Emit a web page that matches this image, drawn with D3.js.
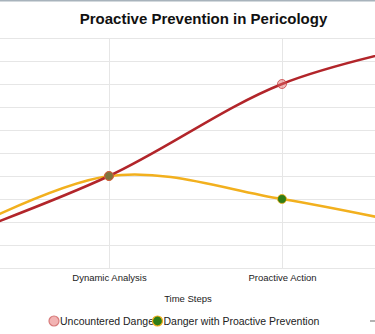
<!DOCTYPE html>
<html>
<head>
<meta charset="utf-8">
<script src="https://cdn.jsdelivr.net/npm/d3@7"></script>
<style>
  html, body { margin: 0; padding: 0; background: #fff; }
  svg { display: block; font-family: "Liberation Sans", Arial, sans-serif; }
</style>
</head>
<body>
<div id="chart"></div>
<script>
const WIDTH = 375;
const HEIGHT = 334;

// data
const categories = ["Initial State", "Dynamic Analysis", "Proactive Action", "Outcome"];
const uncountered = [1, 4, 8, 10];
const prevention = [1, 4, 3, 1.5];
const yTicks = [0, 1, 2, 3, 4, 5, 6, 7, 8, 9, 10];

const series = [
    {name: "Danger with Proactive Prevention", values: prevention, line: "#f2b01e",
        fill: "#2f7d16", stroke: "#f2b01e", fillOpacity: 1},
    {name: "Uncountered Danger", values: uncountered, line: "#b2252a",
        fill: "#e06a6a", stroke: "#c94545", fillOpacity: 0.45}
];

// the plot is wider than the window, first and last steps fall outside
const plot = {left: -64, right: 455, top: 38, bottom: 268};

const svg = d3.select("#chart").append("svg")
    .attr("width", WIDTH)
    .attr("height", HEIGHT);

svg.append("line")
    .attr("x1", 0).attr("x2", WIDTH)
    .attr("y1", 0.5).attr("y2", 0.5)
    .attr("stroke", "#a8b3bc").attr("stroke-width", 2);

const x = d3.scalePoint()
    .domain(categories)
    .range([plot.left, plot.right]);

const y = d3.scaleLinear()
    .domain([0, 10])
    .range([plot.bottom, plot.top]);

// grid
svg.append("g").attr("class", "grid-y")
    .selectAll("line")
    .data(yTicks)
    .enter().append("line")
    .attr("x1", 0).attr("x2", WIDTH)
    .attr("y1", d => Math.round(y(d)) + 0.5)
    .attr("y2", d => Math.round(y(d)) + 0.5)
    .attr("stroke", "#e6e6e6");

svg.append("g").attr("class", "grid-x")
    .selectAll("line")
    .data(categories)
    .enter().append("line")
    .attr("x1", d => Math.round(x(d)) + 0.5)
    .attr("x2", d => Math.round(x(d)) + 0.5)
    .attr("y1", plot.top).attr("y2", plot.bottom)
    .attr("stroke", "#e6e6e6");

// x axis labels, only the steps that fall inside the window
const xAxis = d3.axisBottom(x).tickSize(0).tickPadding(6)
    .tickValues(categories.filter(c => x(c) > 0 && x(c) < WIDTH));
const xAxisContainer = svg.append("g")
    .attr("class", "x axis")
    .attr("transform", "translate(0," + plot.bottom + ")")
    .call(xAxis);
xAxisContainer.select(".domain").remove();
xAxisContainer.selectAll("text")
    .attr("font-size", 9.5)
    .attr("font-family", "Liberation Sans, Arial, sans-serif")
    .attr("fill", "#222");

svg.append("text")
    .attr("x", 188).attr("y", 302)
    .attr("text-anchor", "middle")
    .attr("font-size", 9.5)
    .attr("fill", "#222")
    .text("Time Steps");

// title
svg.append("text")
    .attr("x", 203.5).attr("y", 24)
    .attr("text-anchor", "middle")
    .attr("font-size", 15)
    .attr("font-weight", "bold")
    .attr("fill", "#111")
    .text("Proactive Prevention in Pericology");

// lines
const line = d3.line()
    .x((d, i) => x(categories[i]))
    .y(d => y(d))
    .curve(d3.curveCardinal.tension(0));

svg.append("g").attr("class", "lines")
    .selectAll("path")
    .data(series)
    .enter().append("path")
    .attr("d", d => line(d.values))
    .attr("fill", "none")
    .attr("stroke", d => d.line)
    .attr("stroke-width", 2.5);

// markers
series.forEach(function(s) {
    svg.append("g")
        .selectAll("circle")
        .data(s.values)
        .enter().append("circle")
        .attr("cx", (d, i) => x(categories[i]))
        .attr("cy", d => y(d))
        .attr("r", 4.5)
        .attr("fill", s.fill)
        .attr("fill-opacity", s.fillOpacity)
        .attr("stroke", s.stroke)
        .attr("stroke-opacity", 0.8)
        .attr("stroke-width", 1);
});

// legend
const legendItems = [series[1], series[0]];
const legend = svg.append("g").attr("class", "legend")
    .attr("transform", "translate(0,321)");
let lx = 54;
legendItems.forEach(function(s) {
    legend.append("circle")
        .attr("cx", lx).attr("cy", 0)
        .attr("r", 5)
        .attr("fill", s === series[1] ? "#f2b3b3" : s.fill)
        .attr("stroke", s === series[1] ? "#d77a7a" : s.stroke)
        .attr("stroke-width", 1.2);
    const t = legend.append("text")
        .attr("x", lx + 6).attr("y", 4)
        .attr("font-size", 10.5)
        .attr("fill", "#222")
        .text(s.name);
    lx += 6 + t.node().getComputedTextLength();
});
// start of a third legend swatch cut by the window
legend.append("line")
    .attr("x1", 370).attr("x2", 376)
    .attr("y1", 0).attr("y2", 0)
    .attr("stroke", "#999").attr("stroke-width", 1.5);
</script>
</body>
</html>
